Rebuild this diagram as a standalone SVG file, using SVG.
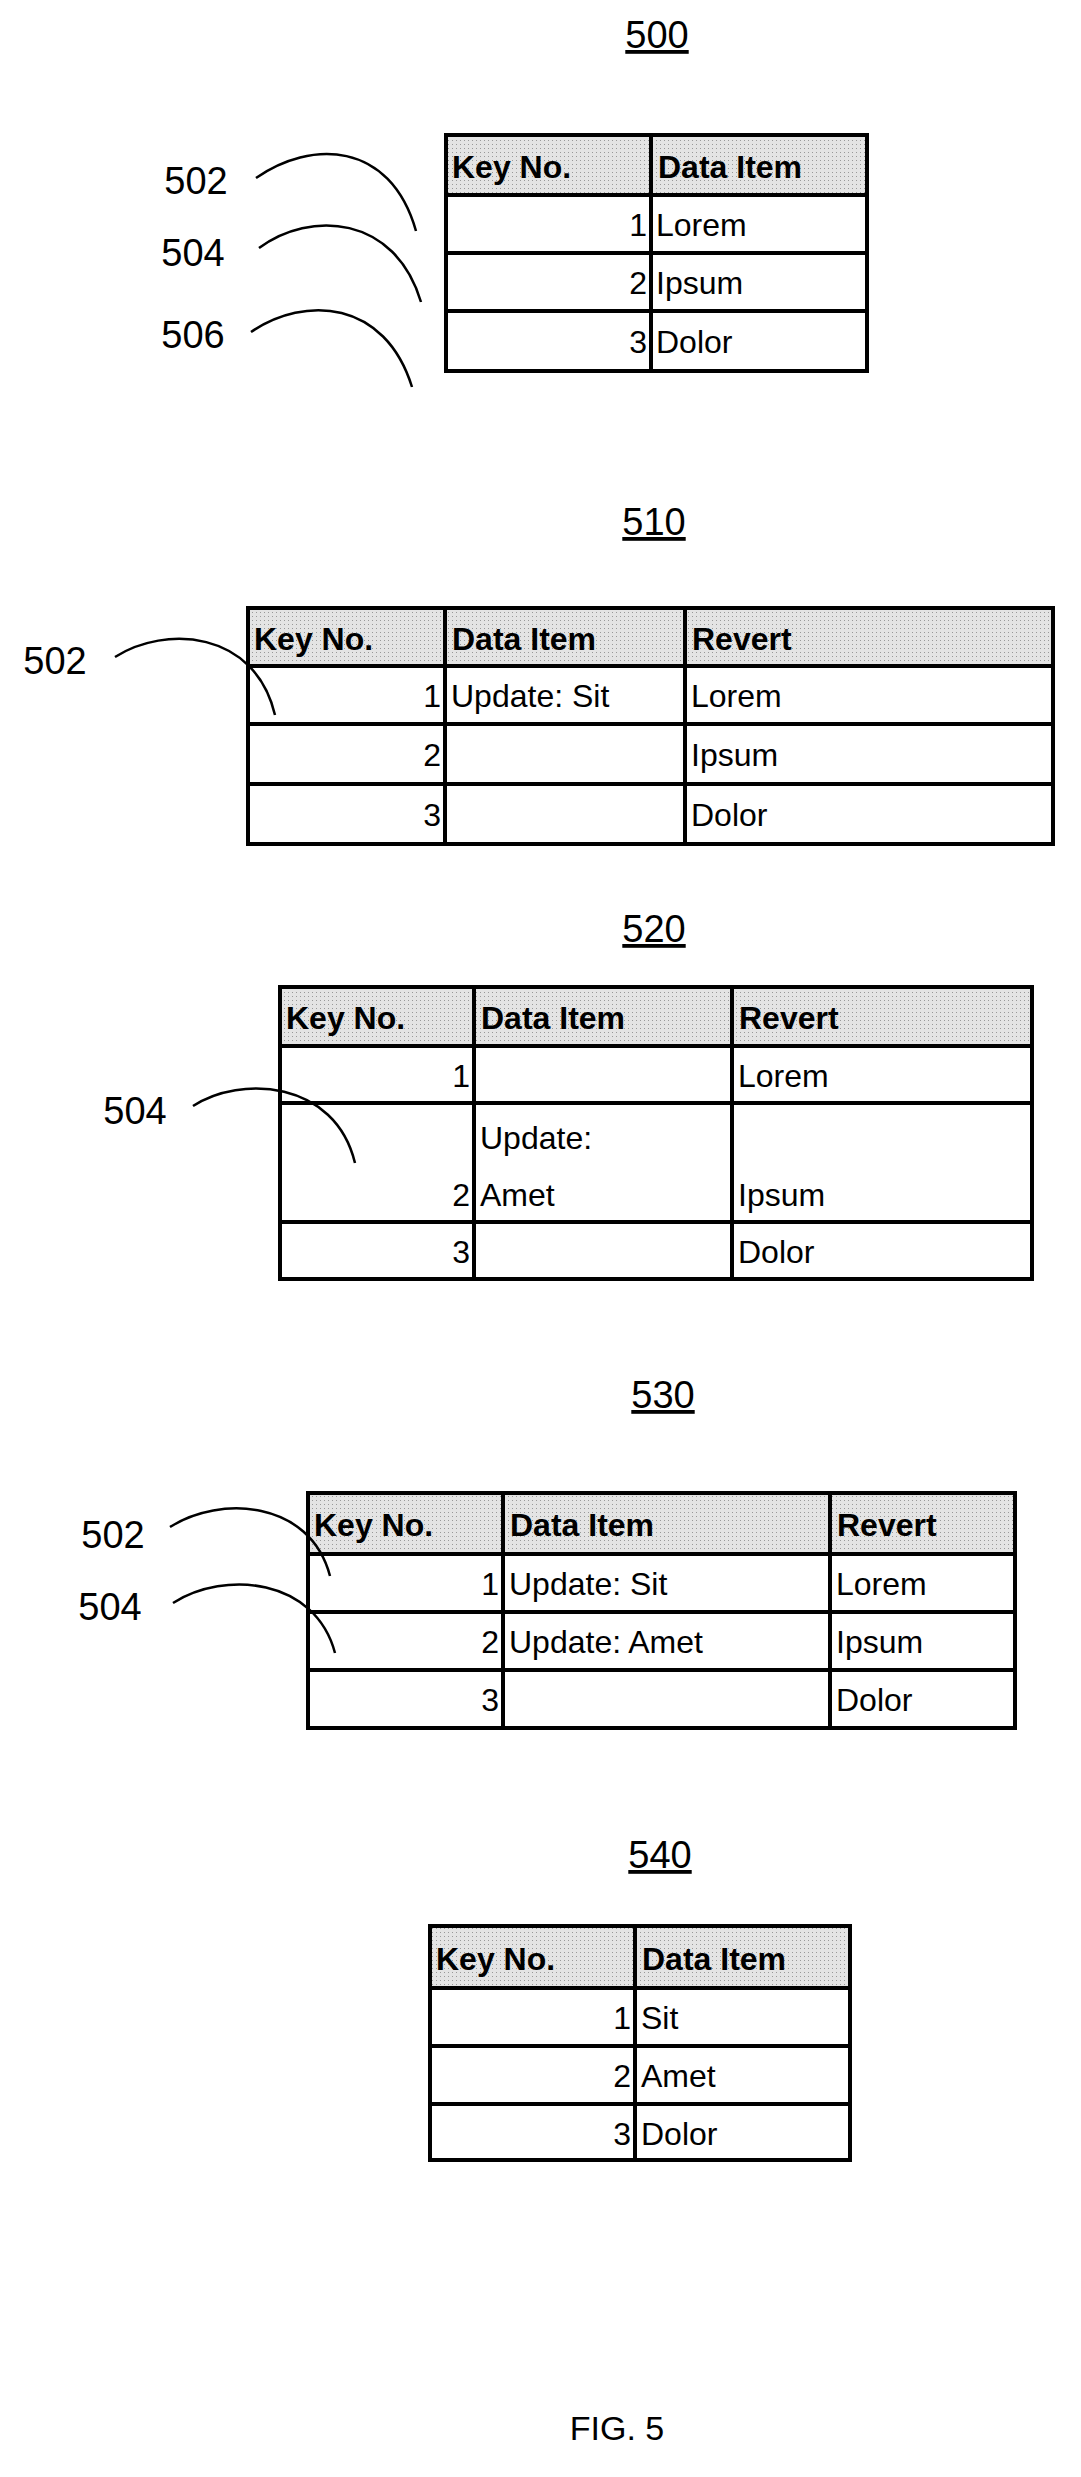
<svg xmlns="http://www.w3.org/2000/svg" width="1081" height="2477" viewBox="0 0 1081 2477">
<style>
text{font-family:"Liberation Sans",Arial,sans-serif;fill:#000}
.c{font-size:32px}
.h{font-size:32px;font-weight:bold}
.n{font-size:32px;text-anchor:end}
.t{font-size:38px;text-anchor:middle;text-decoration:underline}
.l{font-size:38px;text-anchor:middle}
.g{fill:url(#dots);stroke:none}
.b{fill:none;stroke:#000;stroke-width:4}
.k{fill:none;stroke:#000;stroke-width:2.5}
</style>
<defs>
<pattern id="dots" width="4" height="4" patternUnits="userSpaceOnUse">
<rect width="4" height="4" fill="#e4e4e4"/><rect width="1" height="1" fill="#999"/>
</pattern>
</defs>
<rect width="1081" height="2477" fill="#fff"/>

<g id="t500">
<text class="t" x="657" y="48">500</text>
<rect class="g" x="446" y="135" width="421" height="60"/>
<path class="b" d="M446 135H867V371H446Z M446 195H867 M446 253H867 M446 311H867 M651 135V371"/>
<text class="h" x="452" y="178">Key No.</text><text class="h" x="658" y="178">Data Item</text>
<text class="n" x="647" y="236">1</text><text class="c" x="656" y="236">Lorem</text>
<text class="n" x="647" y="294">2</text><text class="c" x="656" y="294">Ipsum</text>
<text class="n" x="647" y="353">3</text><text class="c" x="656" y="353">Dolor</text>
</g>

<g id="t510">
<text class="t" x="654" y="535">510</text>
<rect class="g" x="248" y="608" width="805" height="58"/>
<path class="b" d="M248 608H1053V844H248Z M248 666H1053 M248 724H1053 M248 784H1053 M445 608V844 M685 608V844"/>
<text class="h" x="254" y="650">Key No.</text><text class="h" x="452" y="650">Data Item</text><text class="h" x="692" y="650">Revert</text>
<text class="n" x="441" y="707">1</text><text class="c" x="451" y="707">Update: Sit</text><text class="c" x="691" y="707">Lorem</text>
<text class="n" x="441" y="766">2</text><text class="c" x="691" y="766">Ipsum</text>
<text class="n" x="441" y="826">3</text><text class="c" x="691" y="826">Dolor</text>
</g>

<g id="t520">
<text class="t" x="654" y="942">520</text>
<rect class="g" x="280" y="987" width="752" height="59"/>
<path class="b" d="M280 987H1032V1279H280Z M280 1046H1032 M280 1103H1032 M280 1222H1032 M474 987V1279 M732 987V1279"/>
<text class="h" x="286" y="1029">Key No.</text><text class="h" x="481" y="1029">Data Item</text><text class="h" x="739" y="1029">Revert</text>
<text class="n" x="470" y="1087">1</text><text class="c" x="738" y="1087">Lorem</text>
<text class="c" x="480" y="1149">Update:</text>
<text class="n" x="470" y="1206">2</text><text class="c" x="480" y="1206">Amet</text><text class="c" x="738" y="1206">Ipsum</text>
<text class="n" x="470" y="1263">3</text><text class="c" x="738" y="1263">Dolor</text>
</g>

<g id="t530">
<text class="t" x="663" y="1408">530</text>
<rect class="g" x="308" y="1493" width="707" height="61"/>
<path class="b" d="M308 1493H1015V1728H308Z M308 1554H1015 M308 1612H1015 M308 1670H1015 M503 1493V1728 M830 1493V1728"/>
<text class="h" x="314" y="1536">Key No.</text><text class="h" x="510" y="1536">Data Item</text><text class="h" x="837" y="1536">Revert</text>
<text class="n" x="499" y="1595">1</text><text class="c" x="509" y="1595">Update: Sit</text><text class="c" x="836" y="1595">Lorem</text>
<text class="n" x="499" y="1653">2</text><text class="c" x="509" y="1653">Update: Amet</text><text class="c" x="836" y="1653">Ipsum</text>
<text class="n" x="499" y="1711">3</text><text class="c" x="836" y="1711">Dolor</text>
</g>

<g id="t540">
<text class="t" x="660" y="1868">540</text>
<rect class="g" x="430" y="1926" width="420" height="62"/>
<path class="b" d="M430 1926H850V2160H430Z M430 1988H850 M430 2046H850 M430 2104H850 M635 1926V2160"/>
<text class="h" x="436" y="1970">Key No.</text><text class="h" x="642" y="1970">Data Item</text>
<text class="n" x="631" y="2029">1</text><text class="c" x="641" y="2029">Sit</text>
<text class="n" x="631" y="2087">2</text><text class="c" x="641" y="2087">Amet</text>
<text class="n" x="631" y="2145">3</text><text class="c" x="641" y="2145">Dolor</text>
</g>

<g id="labels">
<text class="l" x="196" y="194">502</text>
<text class="l" x="193" y="266">504</text>
<text class="l" x="193" y="348">506</text>
<text class="l" x="55" y="674">502</text>
<text class="l" x="135" y="1124">504</text>
<text class="l" x="113" y="1548">502</text>
<text class="l" x="110" y="1620">504</text>
<text class="l" x="617" y="2440" style="font-size:34px">FIG. 5</text>
</g>

<g id="connectors">
<path class="k" d="M256 178C310 140 390 140 416 231"/>
<path class="k" d="M259 248C310 210 395 215 421 302"/>
<path class="k" d="M251 332C305 295 385 300 412 387"/>
<path class="k" d="M115 657C165 625 255 630 275 715"/>
<path class="k" d="M193 1106C240 1075 335 1080 355 1163"/>
<path class="k" d="M170 1527C220 1495 310 1500 330 1576"/>
<path class="k" d="M173 1603C225 1570 315 1578 335 1653"/>
</g>
</svg>
